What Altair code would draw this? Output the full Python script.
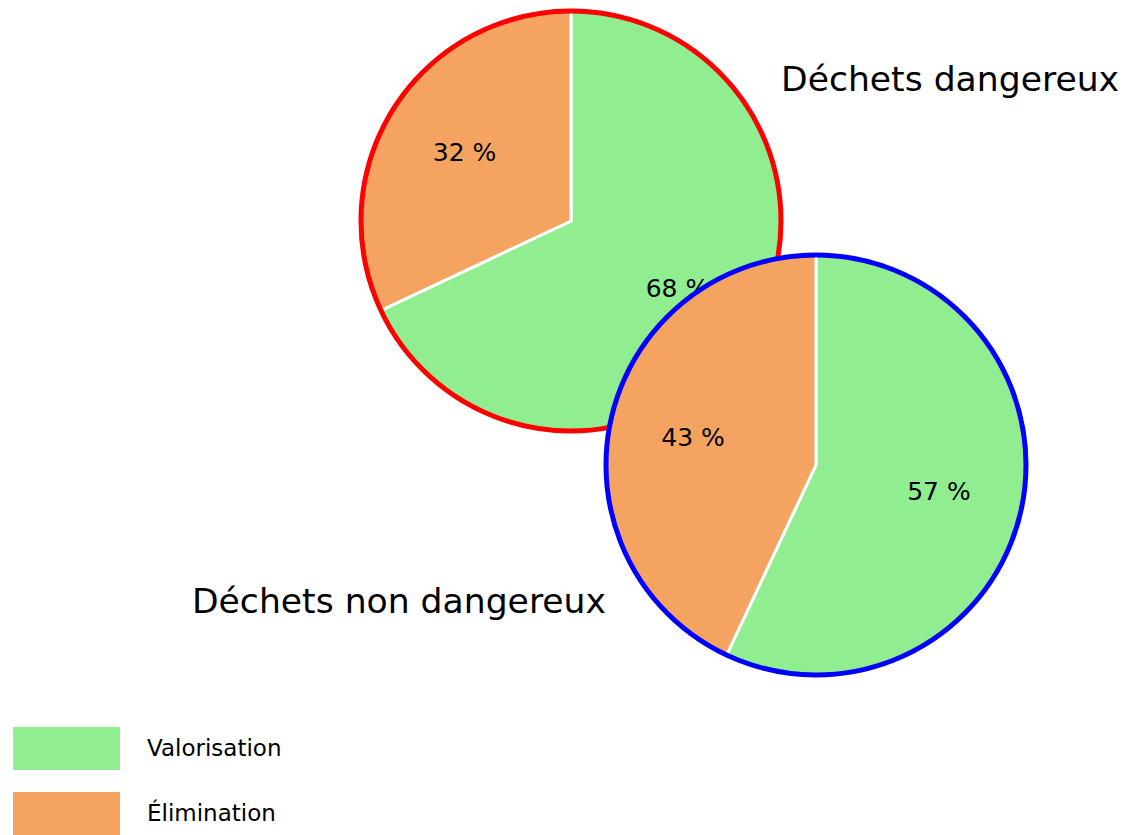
import math

import altair as alt
import pandas as pd

# Waste treatment shares, in percent
categories = ["Valorisation", "Élimination"]
dangereux = [68, 32]
non_dangereux = [57, 43]
titles = ["Déchets dangereux", "Déchets non dangereux"]
colors = ["#90EE90", "#F4A460"]

FONT = "DejaVu Sans"
RADIUS = 210


def frame(values):
    return pd.DataFrame({
        "categorie": categories,
        "part": values,
        "ordre": list(range(len(categories))),
        "etiquette": [f"{v} %" for v in values],
    })


legend = alt.Legend(
    title=None,
    orient="none",
    legendX=35,
    legendY=717,
    padding=0,
    rowPadding=11,
    symbolType="M-1.698,-0.683H1.698V0.683H-1.698Z",
    symbolSize=3969,
    symbolStrokeWidth=0,
    symbolOpacity=1,
    labelFont=FONT,
    labelFontSize=23,
    labelColor="black",
    labelOffset=49,
    labelLimit=0,
)

color = alt.Color(
    "categorie:N",
    scale=alt.Scale(domain=categories, range=colors),
    legend=legend,
)


def pie(values, cx, cy, edge):
    base = alt.Chart(frame(values)).encode(
        theta=alt.Theta("part:Q", stack=True),
        order=alt.Order("ordre:Q"),
        x=alt.value(cx),
        y=alt.value(cy),
    )
    wedges = base.mark_arc(outerRadius=RADIUS, stroke="white", strokeWidth=3).encode(color=color)
    ring = alt.Chart(pd.DataFrame({"c": [0]})).mark_arc(
        outerRadius=RADIUS,
        theta=0,
        theta2=2 * math.pi,
        filled=False,
        stroke=edge,
        strokeWidth=5,
    ).encode(x=alt.value(cx), y=alt.value(cy))
    labels = base.mark_text(
        radius=126, fontSize=25, font=FONT, color="black", baseline="middle"
    ).encode(text="etiquette:N")
    return [wedges, ring, labels]


def heading(text, x, y, align):
    return alt.Chart(pd.DataFrame({"titre": [text]})).mark_text(
        font=FONT, fontSize=34.6, color="black", align=align, baseline="middle"
    ).encode(text="titre:N", x=alt.value(x), y=alt.value(y))


layers = (
    pie(dangereux, 571, 221, "red")
    + pie(non_dangereux, 816, 465, "blue")
    + [heading(titles[0], 781, 81, "left"), heading(titles[1], 606, 603, "right")]
)

chart = (
    alt.layer(*layers)
    .resolve_scale(theta="independent")
    .properties(width=1124, height=835, autosize="none", padding=0)
    .configure_view(stroke=None)
)

chart.save("out.html", embed_options={"renderer": "svg", "actions": False})
